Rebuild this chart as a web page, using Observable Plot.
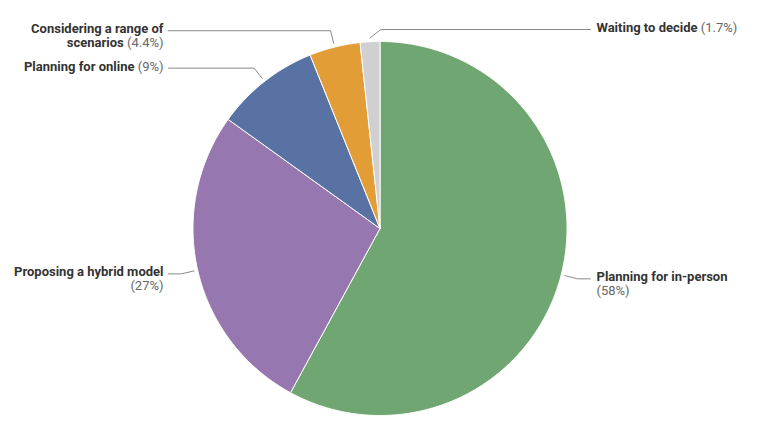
<!DOCTYPE html>
<html>
<head>
<meta charset="utf-8">
<script src="https://cdn.jsdelivr.net/npm/d3@7"></script>
<script src="https://cdn.jsdelivr.net/npm/@observablehq/plot@0.6"></script>
<style>
  html, body { margin: 0; padding: 0; background: #fff; }
  #chart { width: 764px; height: 430px; }
  svg { font-family: Roboto, "Noto Sans", sans-serif; }
</style>
</head>
<body>
<div id="chart"></div>
<script>
// ---- data ----
const labels = ["Planning for in-person", "Proposing a hybrid model", "Planning for online", "Considering a range of scenarios", "Waiting to decide"];
const labelLines = ["Planning for in-person\n(58%)", "Proposing a hybrid model\n(27%)", "Planning for online (9%)", "Considering a range of\nscenarios (4.4%)", "Waiting to decide (1.7%)"];
const values = [58, 27, 9, 4.4, 1.7];
const colors = ["#6fa671", "#9777b0", "#5872a3", "#e39d37", "#d0d0d0"];

// ---- layout ----
const W = 764, H = 430;
const CX = 379.5, CY = 228, R = 187;     // pie centre / radius in px
const sides = ["right", "left", "left", "left", "right"];
const leftTextX = 163, rightTextX = 596, topLabelY = 29;

const toUx = px => (px - CX) / R;
const toUy = py => (CY - py) / R;

const arcs = d3.pie().sort(null).value(d => d)(values);

// slice polygons
const slicePts = [];
arcs.forEach((a, i) => {
  slicePts.push({k: i, x: 0, y: 0});
  const n = Math.max(4, Math.ceil((a.endAngle - a.startAngle) / (Math.PI / 360)));
  for (let j = 0; j <= n; j++) {
    const t = a.startAngle + (a.endAngle - a.startAngle) * j / n;
    slicePts.push({k: i, x: Math.sin(t), y: Math.cos(t)});
  }
  slicePts.push({k: i, x: 0, y: 0});
});

// leader lines + labels
const leaderPts = [];
const labelRows = [];
arcs.forEach((a, i) => {
  const m = (a.startAngle + a.endAngle) / 2;
  const s = {x: 1.02 * Math.sin(m), y: 1.02 * Math.cos(m)};
  let e = {x: 1.09 * Math.sin(m), y: 1.09 * Math.cos(m)};
  const top = toUy(topLabelY);
  if (e.y > top) {
    e.y = top;
    if (sides[i] === "right" && e.x < 0) e.x = 0.005;
  }
  const endX = sides[i] === "right" ? toUx(rightTextX - 6) : toUx(leftTextX + 5);
  leaderPts.push({k: i, x: s.x, y: s.y}, {k: i, x: e.x, y: e.y}, {k: i, x: endX, y: e.y});
  labelRows.push({
    k: i,
    x: sides[i] === "right" ? toUx(rightTextX) : toUx(leftTextX),
    y: e.y,
    text: labelLines[i],
    anchor: sides[i] === "right" ? "start" : "end"
  });
});

const textOpts = {x: "x", y: "y", text: "text", lineAnchor: "top", dy: -7.5, lineHeight: 1.08, fontSize: 13, fill: "#333"};

const plot = Plot.plot({
  width: W, height: H,
  margin: 0,
  x: {domain: [toUx(0), toUx(W)], axis: null},
  y: {domain: [toUy(H), toUy(0)], axis: null},
  marks: [
    Plot.line(slicePts, {x: "x", y: "y", z: "k", fill: d => colors[d.k], stroke: "#fff", strokeWidth: 1, curve: "linear"}),
    Plot.line(leaderPts, {x: "x", y: "y", z: "k", stroke: "#8a8a8a", strokeWidth: 1}),
    Plot.text(labelRows.filter(d => d.anchor === "start"), {...textOpts, textAnchor: "start"}),
    Plot.text(labelRows.filter(d => d.anchor === "end"), {...textOpts, textAnchor: "end"})
  ]
});

// style label lines: bold name, grey percentage
d3.select(plot).selectAll("g[aria-label=text] text").each(function() {
  const t = d3.select(this);
  const spans = t.selectAll("tspan");
  const targets = spans.empty() ? [this] : spans.nodes();
  targets.forEach(node => {
    const str = node.textContent;
    const idx = str.indexOf("(");
    const name = idx >= 0 ? str.slice(0, idx) : str;
    const pct = idx >= 0 ? str.slice(idx) : "";
    const sel = d3.select(node);
    sel.text(null);
    if (name.length) sel.append("tspan").attr("font-weight", "bold").attr("fill", "#333").text(name);
    if (pct.length) sel.append("tspan").attr("fill", "#666").attr("font-weight", "normal").text(pct);
  });
});

document.getElementById("chart").appendChild(plot);
</script>
</body>
</html>
